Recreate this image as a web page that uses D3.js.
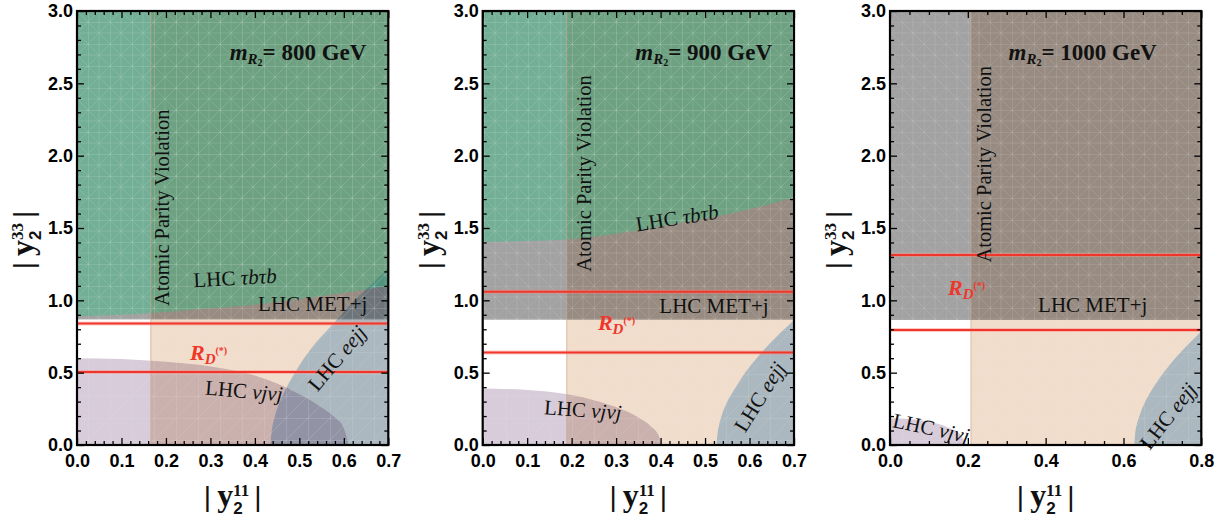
<!DOCTYPE html>
<html><head><meta charset="utf-8">
<script src="https://cdn.jsdelivr.net/npm/d3@7/dist/d3.min.js"></script>
<style>body{margin:0;background:#fff}svg{display:block}</style>
</head><body>
<svg id="c" width="1230" height="520"></svg>
<script>
// ================= DATA =================
const massLabels = ["800", "900", "1000"];
const xDomainMax = [0.7, 0.7, 0.8];
const xTickValues = [
  [0, 0.1, 0.2, 0.3, 0.4, 0.5, 0.6, 0.7],
  [0, 0.1, 0.2, 0.3, 0.4, 0.5, 0.6, 0.7],
  [0, 0.2, 0.4, 0.6, 0.8]
];
const xMinorStep = [0.02, 0.02, 0.05];
const yTickValues = [0, 0.5, 1.0, 1.5, 2.0, 2.5, 3.0];
const yMinorStep = 0.1;
// Atomic parity violation: excluded for |y11| > apvX
const apvX = [0.166, 0.189, 0.208];
// LHC MET+j: excluded for |y33| > metY
const metY = [0.868, 0.866, 0.864];
// R_D(*) preferred band (red lines)
const rdLow = [0.505, 0.64, 0.795];
const rdHigh = [0.84, 1.06, 1.313];
// LHC tau b tau b: excluded above this curve  [|y11|, |y33|]
const tauBoundary = [
  [[0,0.89],[0.1,0.9],[0.2,0.92],[0.3,0.945],[0.4,0.97],[0.5,1.01],[0.6,1.05],[0.7,1.1]],
  [[0,1.405],[0.1,1.41],[0.19,1.42],[0.3,1.46],[0.4,1.51],[0.5,1.565],[0.6,1.63],[0.7,1.71]],
  []
];
// LHC nu j nu j: excluded below this curve
const nuBoundary = [
  [[0,0.6],[0.1,0.594],[0.2,0.575],[0.3,0.543],[0.4,0.48],[0.45,0.425],[0.5,0.35],[0.55,0.26],[0.58,0.19],[0.6,0.115],[0.611,0]],
  [[0,0.39],[0.1,0.38],[0.2,0.345],[0.25,0.31],[0.3,0.262],[0.35,0.19],[0.38,0.125],[0.395,0.07],[0.403,0]],
  [[0,0.185],[0.05,0.179],[0.1,0.16],[0.15,0.12],[0.18,0.075],[0.197,0]]
];
// LHC eejj: excluded right of this curve
const eeBoundary = [
  [[0.435,0],[0.438,0.1],[0.45,0.25],[0.49,0.5],[0.535,0.7],[0.577,0.84],[0.624,1.0],[0.665,1.12],[0.702,1.23]],
  [[0.526,0],[0.529,0.1],[0.537,0.2],[0.55,0.3],[0.569,0.4],[0.59,0.5],[0.616,0.6],[0.645,0.7],[0.678,0.8],[0.702,0.87]],
  [[0.628,0],[0.631,0.1],[0.641,0.2],[0.656,0.3],[0.677,0.4],[0.703,0.5],[0.733,0.6],[0.768,0.7],[0.802,0.79]]
];

// ================= LAYOUT / STYLE =================
const plotLeft = [77, 482.7, 890];
const plotWidth = 311.3;
const plotTop = 11, plotBottom = 445;
const SERIF = "'Liberation Serif','Times New Roman',serif";
const SANS = "'Liberation Sans',Arial,sans-serif";

// label placements in data coordinates per panel
const labelPlace = [
  {title:[0.497,2.66], apv:[0.207,1.64], tau:[0.356,1.106,-3], met:[0.53,0.926], rd:[0.254,0.588], nu:[0.374,0.325,5], ee:[0.585,0.6,-50]},
  {title:[0.497,2.66], apv:[0.243,1.877], tau:[0.437,1.569,-9], met:[0.52,0.912], rd:[0.259,0.795], nu:[0.224,0.194,4], ee:[0.623,0.332,-58]},
  {title:[0.495,2.66], apv:[0.26,1.94], tau:null, met:[0.521,0.919], rd:[0.149,1.037], nu:[0.102,0.069,12], ee:[0.715,0.2,-52]}
];

const svg = d3.select('#c');
const defs = svg.append('defs');

function pattern(id, d, op) {
  const p = defs.append('pattern').attr('id', id).attr('patternUnits','userSpaceOnUse')
    .attr('width', 22).attr('height', 22);
  p.append('path').attr('d', d).attr('stroke', '#fff').attr('stroke-opacity', op)
    .attr('stroke-width', 0.6).attr('fill', 'none');
}
pattern('meshA', 'M0.5,0V22M0,0.5H22M0,22L22,0', 0.22);
pattern('meshB', 'M11,0V22M0,11H22M0,0L22,22', 0.18);

function rich(g, x, y, parts, opts) {
  const t = g.append('text').attr('x', x).attr('y', y)
    .attr('text-anchor', opts.anchor || 'start')
    .attr('fill', opts.fill || '#111')
    .attr('font-family', opts.family || SERIF)
    .attr('font-size', opts.size || 21);
  if (opts.baseline) t.attr('dominant-baseline', opts.baseline);
  parts.forEach(p => {
    const s = t.append('tspan').text(p.t);
    if (p.size) s.attr('font-size', p.size);
    if (p.family) s.attr('font-family', p.family);
    if (p.weight) s.attr('font-weight', p.weight);
    if (p.style) s.attr('font-style', p.style);
    if (p.dx) s.attr('dx', p.dx);
    if (p.dy) s.attr('dy', p.dy);
  });
  return t;
}

function rotLabel(g, px, py, ang, parts, opts) {
  const gg = g.append('g').attr('transform', `translate(${px},${py}) rotate(${ang})`);
  return rich(gg, 0, 0, parts, opts);
}

for (let i = 0; i < 3; i++) {
  const L = plotLeft[i], R = L + plotWidth, xm = xDomainMax[i];
  const x = d3.scaleLinear().domain([0, xm]).range([L, R]);
  const y = d3.scaleLinear().domain([0, 3]).range([plotBottom, plotTop]);
  const cid = 'clip' + i;
  defs.append('clipPath').attr('id', cid).append('rect')
    .attr('x', L).attr('y', plotTop).attr('width', R - L).attr('height', plotBottom - plotTop);
  const g = svg.append('g').attr('clip-path', `url(#${cid})`);

  const apvRect = () => g.append('rect').attr('x', x(apvX[i])).attr('y', y(3))
      .attr('width', x(xm) - x(apvX[i])).attr('height', y(0) - y(3));
  const metRect = () => g.append('rect').attr('x', x(0)).attr('y', y(3))
      .attr('width', x(xm) - x(0)).attr('height', y(metY[i]) - y(3));
  const nuArea = d3.area().x(d => x(d[0])).y0(y(0)).y1(d => y(d[1])).curve(d3.curveMonotoneX);
  const eeArea = d3.area().y(d => y(d[1])).x0(d => x(d[0])).x1(x(xm) + 2).curve(d3.curveMonotoneY);
  const tauArea = d3.area().x(d => x(d[0])).y0(y(3)).y1(d => y(d[1])).curve(d3.curveMonotoneX);

  // fills
  apvRect().attr('fill', '#F0DDCC');
  g.append('path').datum(nuBoundary[i]).attr('d', nuArea).attr('fill', '#D8CCDA').style('mix-blend-mode', 'multiply');
  g.append('path').datum(eeBoundary[i]).attr('d', eeArea).attr('fill', '#B7D4F0').style('mix-blend-mode', 'multiply');
  metRect().attr('fill', '#A2A2A2').style('mix-blend-mode', 'multiply');
  if (tauBoundary[i].length) {
    g.append('path').datum(tauBoundary[i]).attr('d', tauArea).attr('fill', 'rgb(25,201,130)').attr('fill-opacity', 0.34);
  }
  // faint mesh
  apvRect().attr('fill', 'url(#meshA)').attr('opacity', 0.3);
  g.append('path').datum(nuBoundary[i]).attr('d', nuArea).attr('fill', 'url(#meshA)').attr('opacity', 0.4);
  g.append('path').datum(eeBoundary[i]).attr('d', eeArea).attr('fill', 'url(#meshA)').attr('opacity', 0.4);
  metRect().attr('fill', 'url(#meshB)');
  metRect().attr('fill', 'url(#meshA)').attr('opacity', 0.5);
  if (tauBoundary[i].length) {
    g.append('path').datum(tauBoundary[i]).attr('d', tauArea).attr('fill', 'url(#meshA)').attr('opacity', 0.4);
  }
  // APV edge
  g.append('line').attr('x1', x(apvX[i])).attr('x2', x(apvX[i])).attr('y1', y(0)).attr('y2', y(3))
    .attr('stroke', '#C9A88C').attr('stroke-opacity', 0.7).attr('stroke-width', 1);

  // R_D(*) lines
  [rdLow[i], rdHigh[i]].forEach(v => {
    g.append('line').attr('x1', x(0)).attr('x2', x(xm)).attr('y1', y(v)).attr('y2', y(v))
      .attr('stroke', '#FF8A80').attr('stroke-opacity', 0.45).attr('stroke-width', 4);
    g.append('line').attr('x1', x(0)).attr('x2', x(xm)).attr('y1', y(v)).attr('y2', y(v))
      .attr('stroke', '#F0362A').attr('stroke-width', 2);
  });

  // ----- labels -----
  const lp = labelPlace[i];
  const lab = svg.append('g');
  rich(lab, x(lp.title[0]), y(lp.title[1]), [
    {t: 'm', style: 'italic', weight: 'bold'},
    {t: 'R', style: 'italic', weight: 'bold', size: 15, dy: 4},
    {t: '2', weight: 'bold', size: 10, dy: 2},
    {t: '= ' + massLabels[i] + ' GeV', weight: 'bold', dy: -6}
  ], {anchor: 'middle', size: 23});
  rotLabel(lab, x(lp.apv[0]), y(lp.apv[1]), -90, [{t: 'Atomic Parity Violation'}], {anchor: 'middle', size: 20.5});
  if (lp.tau) rotLabel(lab, x(lp.tau[0]), y(lp.tau[1]), lp.tau[2],
    [{t: 'LHC '}, {t: 'τbτb', style: 'italic'}], {anchor: 'middle', baseline: i === 1 ? 'central' : null});
  rich(lab, x(lp.met[0]), y(lp.met[1]), [{t: 'LHC MET+j'}], {anchor: 'middle'});
  rich(lab, x(lp.rd[0]), y(lp.rd[1]), [
    {t: 'R', style: 'italic', weight: 'bold'},
    {t: 'D', style: 'italic', weight: 'bold', size: 15, dy: 4},
    {t: '(*)', weight: 'bold', size: 10, dy: -10}
  ], {size: 22, fill: '#F0362A'});
  rotLabel(lab, x(lp.nu[0]), y(lp.nu[1]), lp.nu[2], [{t: 'LHC '}, {t: 'νjνj', style: 'italic'}], {anchor: 'middle'});
  rotLabel(lab, x(lp.ee[0]), y(lp.ee[1]), lp.ee[2], [{t: 'LHC '}, {t: 'eejj', style: 'italic'}], {anchor: 'middle', baseline: 'central'});

  // ----- frame & ticks -----
  const fmtX = d3.format('.1f');
  const xMinor = d3.range(0, xm + 1e-9, xMinorStep[i]).filter(v => !xTickValues[i].some(t => Math.abs(t - v) < 1e-6));
  const yMinor = d3.range(0, 3 + 1e-9, yMinorStep).filter(v => !yTickValues.some(t => Math.abs(t - v) < 1e-6));
  const ax = svg.append('g');
  function styleAxis(sel) {
    sel.select('.domain').remove();
    sel.selectAll('line').attr('stroke', '#000').attr('stroke-width', 1.3);
    sel.attr('font-family', SANS).attr('font-size', 18).attr('font-weight', 'bold');
    sel.selectAll('text').attr('fill', '#000');
  }
  ax.append('g').attr('transform', `translate(0,${plotBottom})`)
    .call(d3.axisBottom(x).tickValues(xTickValues[i]).tickSize(-7).tickPadding(9).tickFormat(fmtX)).call(styleAxis);
  ax.append('g').attr('transform', `translate(0,${plotBottom})`)
    .call(d3.axisBottom(x).tickValues(xMinor).tickSize(-4).tickFormat('')).call(styleAxis);
  ax.append('g').attr('transform', `translate(0,${plotTop})`)
    .call(d3.axisTop(x).tickValues(xTickValues[i]).tickSize(-7).tickFormat('')).call(styleAxis);
  ax.append('g').attr('transform', `translate(0,${plotTop})`)
    .call(d3.axisTop(x).tickValues(xMinor).tickSize(-4).tickFormat('')).call(styleAxis);
  ax.append('g').attr('transform', `translate(${L},0)`)
    .call(d3.axisLeft(y).tickValues(yTickValues).tickSize(-7).tickPadding(4).tickFormat(fmtX)).call(styleAxis);
  ax.append('g').attr('transform', `translate(${L},0)`)
    .call(d3.axisLeft(y).tickValues(yMinor).tickSize(-4).tickFormat('')).call(styleAxis);
  ax.append('g').attr('transform', `translate(${R},0)`)
    .call(d3.axisRight(y).tickValues(yTickValues).tickSize(-7).tickFormat('')).call(styleAxis);
  ax.append('g').attr('transform', `translate(${R},0)`)
    .call(d3.axisRight(y).tickValues(yMinor).tickSize(-4).tickFormat('')).call(styleAxis);
  ax.append('rect').attr('x', L).attr('y', plotTop).attr('width', R - L).attr('height', plotBottom - plotTop)
    .attr('fill', 'none').attr('stroke', '#000').attr('stroke-width', 2.2);

  // ----- axis titles -----
  const titleParts = (sup) => [
    {t: '|', family: SANS, size: 28},
    {t: 'y', family: SERIF, weight: 'bold', size: 32, dx: 6},
    {t: '2', family: SANS, weight: 'bold', size: 17, dy: 8},
    {t: sup, family: SERIF, weight: 'bold', size: 17, dx: -9.5, dy: -18},
    {t: '|', family: SANS, size: 28, dx: 5, dy: 10}
  ];
  rich(svg, (L + R) / 2, 506, titleParts('11'), {anchor: 'middle'});
  rotLabel(svg, L - 44, 240, -90, titleParts('33'), {anchor: 'middle'});
}
</script>
</body></html>
